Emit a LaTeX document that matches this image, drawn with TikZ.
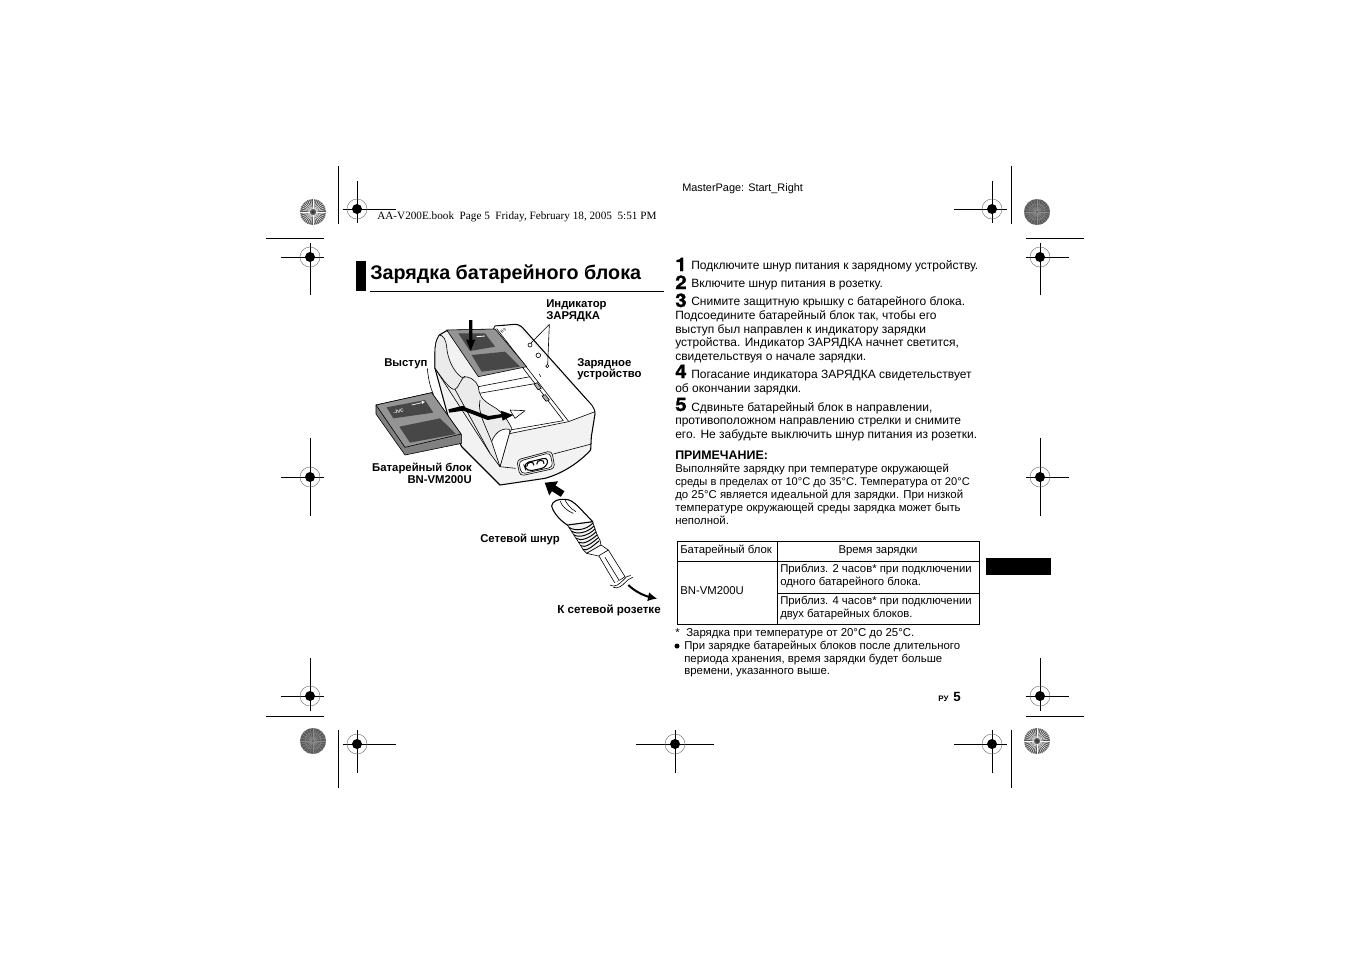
\documentclass[tikz,border=0pt]{standalone}
\usepackage{fontspec}
\setmainfont{Liberation Sans}
\newfontfamily\serifpage{Liberation Serif}
\newfontfamily\digitfont[BoldFeatures={FakeBold=1.4,FakeStretch=1.1}]{TeX Gyre Heros}
\usetikzlibrary{arrows.meta}

\newcommand{\regmark}[1]{%
    \draw[markline] (#1) circle (10);
    \fill (#1) circle (5);
}
\newcommand{\sunlight}[1]{%
    \fill[black!66] (#1) circle (13);
    \foreach \a in {0,10,...,350} \draw[white, line width=0.3pt] (#1) ++(\a:3) -- ++(\a:10);
    \fill[black!80] (#1) circle (1.5);
}
\newcommand{\sundark}[1]{%
    \fill[black!64] (#1) circle (13);
    \foreach \a in {0,15,...,345} \draw[black!45, line width=0.3pt] (#1) ++(\a:1) -- ++(\a:12);
    \draw[black!48, line width=0.4pt] (#1) circle (4) (#1) circle (8);
}

\begin{document}
\begin{tikzpicture}[x=0.75pt, y=-0.75pt, >={Latex},
    markline/.style={black!60, line width=0.3pt},
    cutline/.style={black, line width=0.6pt},
    bodytext/.style={anchor=base west, inner sep=0, font=\fontsize{9}{10}\selectfont},
    notetext/.style={anchor=base west, inner sep=0, font=\fontsize{8.55}{9}\selectfont},
    celltext/.style={anchor=base west, inner sep=0, font=\fontsize{8.5}{9}\selectfont},
    steptext/.style={anchor=base west, inner sep=0, font=\digitfont\bfseries\fontsize{14}{14}\selectfont},
    label/.style={anchor=base west, inner sep=0, font=\bfseries\fontsize{8.5}{9}\selectfont},
    labelr/.style={label, anchor=base east},
    bline/.style={line width=0.45pt, line join=round},
    thickline/.style={line width=0.8pt, line join=round},
    blackarrow/.style={fill=black, draw=none}]

    \useasboundingbox (0,0) rectangle (1351,954);

    % sheet marks
    \draw[cutline] (338,166) -- (338,224) (266,238) -- (324,238);
    \draw[cutline] (1011,166) -- (1011,224) (1026,238) -- (1084,238);
    \draw[cutline] (338,730) -- (338,788) (266,716) -- (324,716);
    \draw[cutline] (1011,730) -- (1011,788) (1026,716) -- (1084,716);

    \draw[cutline] (343,209) -- (396,209) (357,181) -- (357,223);
    \regmark{357,209}
    \draw[cutline] (954,209) -- (1007,209) (992,181) -- (992,223);
    \regmark{992,209}
    \draw[cutline] (281,257) -- (324,257) (310,243) -- (310,295);
    \regmark{310,257}
    \draw[cutline] (1026,257) -- (1069,257) (1040,243) -- (1040,295);
    \regmark{1040,257}
    \draw[cutline] (281,477) -- (324,477) (310,438) -- (310,516);
    \regmark{310,477}
    \draw[cutline] (1026,477) -- (1069,477) (1040,438) -- (1040,516);
    \regmark{1040,477}
    \draw[cutline] (281,696) -- (324,696) (310,658) -- (310,711);
    \regmark{310,696}
    \draw[cutline] (1026,696) -- (1069,696) (1040,658) -- (1040,711);
    \regmark{1040,696}
    \draw[cutline] (343,744) -- (396,744) (357,730) -- (357,773);
    \regmark{357,744}
    \draw[cutline] (636,744) -- (714,744) (675,730) -- (675,773);
    \regmark{675,744}
    \draw[cutline] (954,744) -- (1007,744) (992,730) -- (992,773);
    \regmark{992,744}

    \sunlight{313,212}
    \sundark{1037,212}
    \sundark{313,741}
    \sunlight{1037,741}

    \node[anchor=base west, inner sep=0, font=\fontsize{8.2}{9}\selectfont] (master) at (682,191) {MasterPage: Start\_Right};
    \node[anchor=base west, inner sep=0, font=\serifpage\fontsize{8.4}{9}\selectfont] (book) at (377,219) {AA-V200E.book\ \ Page 5\ \ Friday, February 18, 2005\ \ 5:51 PM};

    % heading
    \fill (356,261) rectangle (366,291);
    \node[anchor=base west, inner sep=0, font=\bfseries\fontsize{14.8}{16}\selectfont] (title) at (370,279) {Зарядка батарейного блока};
    \draw[line width=0.6pt] (370,291) -- (664,291);
    \fill (986,558) rectangle (1051,575);

    % charger
    \begin{scope}[shift={(350,290)}, x=0.25pt, y=-0.25pt]
        \draw[thickline, fill=black!5] (268,135) .. controls (258,150) and (255,165) .. (255,190) -- (255,235) -- (300,400) -- (335,470) -- (420,555) -- (450,585) -- (585,565) .. controls (640,550) and (690,515) .. (722,480) -- (724,440) -- (735,372) .. controls (735,360) and (730,352) .. (725,345) -- (515,110) .. controls (508,104) and (500,103) .. (495,103) -- (435,108) -- (430,118) -- (290,122) -- cycle;
        % top face
        \fill[white] (435,110) -- (497,106) -- (725,348) -- (733,365) -- (655,395) -- (475,430) -- (480,405) -- (460,375) -- (430,350) -- (390,330) -- (385,262) -- cycle;
        \draw[bline] (478,431) -- (655,395) -- (735,365);
        \draw[bline] (430,118) -- (640,392) -- (480,420);
        \draw[bline] (440,116) -- (655,393);
        \draw[bline] (385,290) -- (540,260) (388,310) -- (560,280);
        \draw[bline, fill=black!30] (552,282) -- (562,278) -- (574,295) -- (564,299) -- cycle;
        \draw[bline, fill=black!30] (576,318) -- (586,314) -- (598,330) -- (588,334) -- cycle;
        % rear wing
        \draw[bline, fill=black!8] (268,135) .. controls (280,135) and (288,150) .. (290,170) .. controls (292,205) and (310,245) .. (335,262) .. controls (355,255) and (378,270) .. (385,290) .. controls (388,315) and (392,328) .. (430,350) .. controls (450,360) and (470,385) .. (480,405) .. controls (490,415) and (480,425) .. (478,431) -- (450,530) -- (420,490) -- (255,235) -- (255,190) .. controls (255,165) and (258,150) .. (268,135) -- cycle;
        \draw[bline] (255,235) .. controls (280,270) and (300,300) .. (315,298) .. controls (325,295) and (330,270) .. (345,258);
        \draw[bline] (315,298) -- (420,490);
        \draw[bline] (390,330) .. controls (385,350) and (392,375) .. (400,395) -- (425,455);
        \draw[bline, fill=white] (425,455) .. controls (432,435) and (450,412) .. (478,418) -- (478,431) -- (450,530) -- cycle;
        \draw[bline] (450,530) -- (497,535) (610,492) -- (724,462);
        % battery in the slot
        \draw[bline, fill=black!42] (290,120) -- (435,117) -- (530,230) -- (385,260) -- cycle;
        \fill[black!72] (325,130) -- (405,130) -- (435,170) -- (360,183) -- cycle;
        \fill[black!72] (365,195) -- (465,185) -- (510,230) -- (395,245) -- cycle;
        \draw[white, line width=0.6pt] (380,140) -- (405,138);
        % indicators
        \draw[bline] (540,165) circle (6) (565,196) circle (7) (592,228) circle (5);
        \draw[bline] (568,252) -- (572,260);
        \node[rotate=45, inner sep=0, font=\fontsize{3}{3}\selectfont] (slotname) at (460,122) {B-3};
        \draw[bline] (480,360) -- (525,362) -- (495,385) -- cycle;
        % socket
        \draw[bline, fill=black!8, rounded corners=3pt] (500,510) -- (605,482) -- (615,535) -- (510,558) -- cycle;
        \draw[bline, fill=white, rounded corners=3pt] (506,514) -- (600,488) -- (609,531) -- (514,552) -- cycle;
        \draw[line width=0.8pt, fill=white, rounded corners=4pt] (520,520) -- (595,502) -- (590,532) -- (530,545) -- cycle;
        \draw[line width=0.8pt] (530,530) .. controls (530,514) and (552,512) .. (552,526) (560,523) .. controls (560,507) and (584,507) .. (582,521);
        % loose battery
        \draw[bline, fill=black!50] (78,345) -- (245,308) -- (335,435) -- (335,460) -- (165,495) -- (78,372) -- cycle;
        \draw[bline, fill=black!42] (78,345) -- (245,308) -- (333,432) -- (165,472) -- cycle;
        \fill[black!72] (110,352) -- (225,330) -- (250,368) -- (130,385) -- cycle;
        \fill[black!72] (148,410) -- (270,385) -- (318,432) -- (180,458) -- cycle;
        \node[rotate=12, inner sep=0, text=white, font=\bfseries\fontsize{3.4}{3}\selectfont] (brand) at (145,365) {-JVC};
        \draw[white, line width=0.5pt] (185,345) -- (215,338);
        \fill[white] (215,333) -- (225,335) -- (216,342) -- cycle;
        % arrows on the charger
        \fill[blackarrow] (295,358) -- (340,347) -- (345,352) -- (415,378) -- (455,372) -- (452,362) -- (490,375) -- (458,392) -- (456,382) -- (413,390) -- (340,362) -- (298,368) -- cycle;
        \fill[blackarrow] (357,90) -- (367,90) -- (367,150) -- (376,148) -- (362,182) -- (348,148) -- (357,150) -- cycle;
        % leaders
        \coordinate (indic) at (598,103);
        \coordinate (dotA) at (542,160);
        \coordinate (dotB) at (593,223);
        \coordinate (tabfrom) at (232,235);
        \coordinate (tabto) at (250,312);
        \draw[bline] (dotA) -- (indic) -- (dotB);
        \draw[bline] (tabfrom) .. controls (235,270) and (242,295) .. (tabto);
    \end{scope}

    % cord
    \begin{scope}[shift={(470,470)}, x=0.25pt, y=-0.25pt]
        \coordinate (plugfrom) at (278,72);
        \coordinate (plugto) at (224,38);
        \draw[-{Triangle[length=8pt,width=12pt]}, line width=5pt] (plugfrom) -- (plugto);
        \draw[bline, fill=white] (385,255) -- (415,240) -- (465,320) -- (435,340) -- cycle;
        \draw[bline] (405,262) -- (448,332);
        \draw[bline, fill=black!5] (292,165) -- (368,155) .. controls (375,180) and (385,205) .. (390,210) -- (393,225) -- (350,250) -- (340,240) .. controls (325,215) and (305,185) .. (292,165) -- cycle;
        \foreach \t in {0,1,...,6} \draw[line width=0.7pt] (297+\t*7,172+\t*11) .. controls (315+\t*6,185+\t*10) and (350+\t*3,180+\t*8) .. (370+\t*3,158+\t*9);
        \draw[bline, fill=white] (350,250) -- (393,225) -- (415,240) -- (385,258) -- cycle;
        \draw[thickline, fill=white] (245,108) .. controls (245,95) and (265,85) .. (285,88) .. controls (300,88) and (310,95) .. (330,115) -- (368,155) -- (292,165) .. controls (275,155) and (250,130) .. (245,108) -- cycle;
        \draw[bline] (285,90) .. controls (290,100) and (300,115) .. (318,125);
        \draw[bline] (270,92) .. controls (275,110) and (295,125) .. (310,130);
        % break
        \fill[white] (420,345) -- (482,316) -- (488,322) -- (430,352) -- cycle;
        \draw[bline] (420,345) .. controls (435,355) and (450,340) .. (460,330) .. controls (465,322) and (472,318) .. (482,316);
        \draw[bline] (430,352) .. controls (445,358) and (458,345) .. (465,338) .. controls (470,332) and (478,325) .. (488,322);
        \coordinate (cordfrom) at (475,345);
        \coordinate (cordto) at (562,386);
        \draw[-{Latex[length=7pt,width=7pt]}, line width=1.5pt] (cordfrom) .. controls (495,365) and (525,378) .. (cordto);
    \end{scope}

    % labels
    \node[label] (indicA) at (546,307) {Индикатор};
    \node[label] (indicB) at (546,319) {ЗАРЯДКА};
    \node[label] (tab) at (384,366) {Выступ};
    \node[label] (chargerA) at (577,366) {Зарядное};
    \node[label] (chargerB) at (577,377) {устройство};
    \node[labelr] (packA) at (472,471) {Батарейный блок};
    \node[labelr] (packB) at (472,483) {BN-VM200U};
    \node[label] (cordname) at (480,542) {Сетевой шнур};
    \node[label, font=\bfseries\fontsize{8.7}{9}\selectfont] (outlet) at (557,613) {К сетевой розетке};

    % steps
    \node[steptext] (numA) at (675,271) {1};
    \node[bodytext] (stepA) at (691,269) {Подключите шнур питания к зарядному устройству.};
    \node[steptext] (numB) at (675,289) {2};
    \node[bodytext] (stepB) at (691,287) {Включите шнур питания в розетку.};
    \node[steptext] (numC) at (675,307) {3};
    \node[bodytext] (stepC) at (691,305) {Снимите защитную крышку с батарейного блока.};
    \node[bodytext] (stepCa) at (675,319) {Подсоедините батарейный блок так, чтобы его};
    \node[bodytext] (stepCb) at (675,333) {выступ был направлен к индикатору зарядки};
    \node[bodytext] (stepCc) at (675,346) {устройства. Индикатор ЗАРЯДКА начнет светится,};
    \node[bodytext] (stepCd) at (675,360) {свидетельствуя о начале зарядки.};
    \node[steptext] (numD) at (675,378) {4};
    \node[bodytext] (stepD) at (691,378) {Погасание индикатора ЗАРЯДКА свидетельствует};
    \node[bodytext] (stepDa) at (675,392) {об окончании зарядки.};
    \node[steptext] (numE) at (675,411) {5};
    \node[bodytext] (stepE) at (691,411) {Сдвиньте батарейный блок в направлении,};
    \node[bodytext] (stepEa) at (675,424) {противоположном направлению стрелки и снимите};
    \node[bodytext] (stepEb) at (675,438) {его. Не забудьте выключить шнур питания из розетки.};

    % note
    \node[anchor=base west, inner sep=0, font=\bfseries\fontsize{9.3}{10}\selectfont] (note) at (675,459) {ПРИМЕЧАНИЕ:};
    \node[notetext] (noteA) at (675,472) {Выполняйте зарядку при температуре окружающей};
    \node[notetext, font=\fontsize{8.35}{9}\selectfont] (noteB) at (675,485) {среды в пределах от 10°C до 35°C. Температура от 20°C};
    \node[notetext] (noteC) at (675,498) {до 25°C является идеальной для зарядки. При низкой};
    \node[notetext] (noteD) at (675,511) {температуре окружающей среды зарядка может быть};
    \node[notetext] (noteE) at (675,524) {неполной.};

    % table
    \draw[line width=0.6pt] (677,541) rectangle (979,624);
    \draw[line width=0.6pt] (677,561) -- (979,561) (777,541) -- (777,624) (777,593) -- (979,593);
    \node[celltext] (headA) at (680,553) {Батарейный блок};
    \node[celltext, anchor=base] (headB) at (878,553) {Время зарядки};
    \node[celltext] (pack) at (680,594) {BN-VM200U};
    \node[celltext] (timeA) at (780,572) {Приблиз. 2 часов* при подключении};
    \node[celltext] (timeAa) at (780,585) {одного батарейного блока.};
    \node[celltext] (timeB) at (780,604) {Приблиз. 4 часов* при подключении};
    \node[celltext] (timeBa) at (780,617) {двух батарейных блоков.};

    % below the table
    \node[notetext] (starmark) at (675,636) {*};
    \node[notetext] (star) at (686,636) {Зарядка при температуре от 20°C до 25°C.};
    \fill (677,646) circle (2.5);
    \node[notetext] (extraA) at (684,649) {При зарядке батарейных блоков после длительного};
    \node[notetext] (extraB) at (684,662) {периода хранения, время зарядки будет больше};
    \node[notetext] (extraC) at (684,674) {времени, указанного выше.};

    \node[anchor=base west, inner sep=0, font=\bfseries\fontsize{6}{6}\selectfont] (lang) at (938,701) {РУ};
    \node[anchor=base west, inner sep=0, font=\bfseries\fontsize{10}{10}\selectfont] (page) at (953,701) {5};
\end{tikzpicture}
\end{document}
